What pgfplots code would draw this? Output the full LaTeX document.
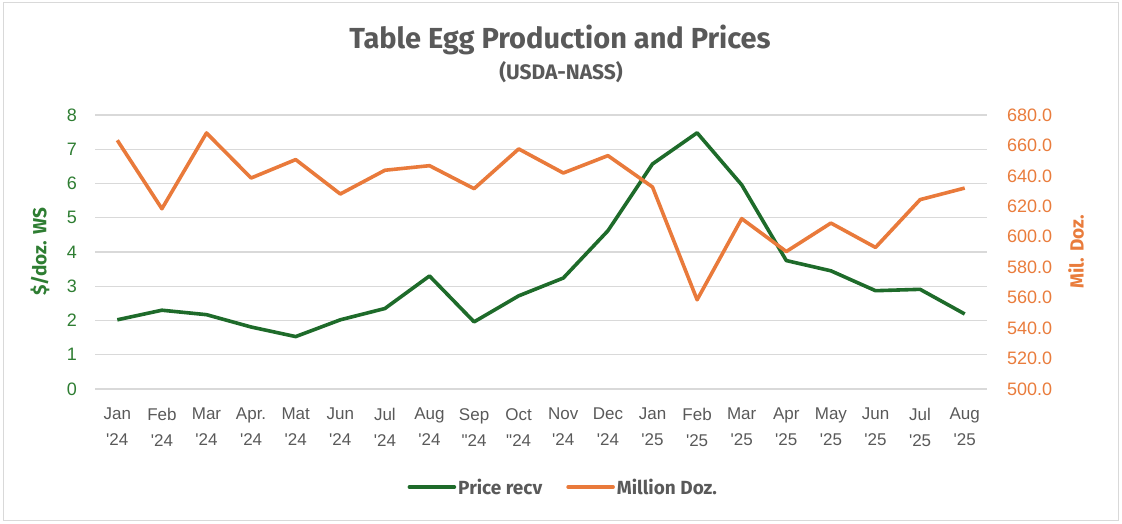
\documentclass[border=0pt]{standalone}
\usepackage{fontspec}
\usepackage{pgfplots}
\pgfplotsset{compat=1.18}
\newfontfamily\tf{Liberation Sans}
\newfontfamily\hf{Fira Sans}
\definecolor{egggreen}{HTML}{1E6B2A}
\definecolor{eggorange}{HTML}{E97A3B}
\definecolor{txtgray}{HTML}{595959}
\definecolor{lblgreen}{HTML}{2E7D32}
\definecolor{lblorange}{HTML}{E97C3C}
\definecolor{gridgray}{HTML}{D9D9D9}
\begin{document}
\begin{tikzpicture}[x=1pt,y=1pt]
\path (0,0) rectangle (1122,524);
\draw[draw=gridgray, line width=1pt] (3,3) rectangle (1118.5,521);
\begin{axis}[at={(95pt,135pt)}, anchor=south west, scale only axis,
  width=892pt, height=274pt,
  xmin=-0.5, xmax=19.5, ymin=0, ymax=8,
  ytick={0,1,...,8}, xtick={0,1,...,19},
  xticklabels={{Jan\\'24},{Feb\\'24},{Mar\\'24},{Apr.\\'24},{Mat\\'24},{Jun\\'24},{Jul\\'24},{Aug\\'24},{Sep\\"24},{Oct\\"24},{Nov\\'24},{Dec\\'24},{Jan\\'25},{Feb\\'25},{Mar\\'25},{Apr\\'25},{May\\'25},{Jun\\'25},{Jul\\'25},{Aug\\'25}},
  xticklabel style={align=center, anchor=north, inner sep=0pt, yshift=-19pt, font=\tf\fontsize{17}{26}\selectfont, text=txtgray},
  yticklabel style={anchor=east, inner sep=0pt, xshift=-18pt, font=\tf\fontsize{18}{18}\selectfont, text=lblgreen,
    /pgf/number format/assume math mode=true},
  axis line style={draw=none}, major tick length=0pt,
  ymajorgrids, grid style={draw=gridgray, line width=1.2pt},
  clip=false]
\addplot[egggreen, line width=3.6pt, line join=round] coordinates {
(0,2.02) (1,2.30) (2,2.17) (3,1.81) (4,1.53) (5,2.02) (6,2.35) (7,3.30) (8,1.96) (9,2.72)
(10,3.24) (11,4.62) (12,6.57) (13,7.48) (14,5.96) (15,3.75) (16,3.45) (17,2.87) (18,2.91) (19,2.19)};
\end{axis}
\begin{axis}[at={(95pt,135pt)}, anchor=south west, scale only axis,
  width=892pt, height=274pt,
  xmin=-0.5, xmax=19.5, ymin=500, ymax=680,
  ytick={500,520,...,680}, xtick=\empty,
  yticklabel pos=right,
  yticklabel style={anchor=west, inner sep=0pt, xshift=20pt, font=\tf\fontsize{18}{18}\selectfont, text=lblorange,
    /pgf/number format/.cd, fixed, fixed zerofill, precision=1, 1000 sep={}, assume math mode=true},
  axis line style={draw=none}, major tick length=0pt,
  clip=false,
  legend columns=2,
  legend style={draw=none, fill=none, at={(0.525,-0.358)}, anchor=center,
    font=\hf\bfseries\fontsize{19}{19}\selectfont, text=txtgray,
    nodes={inner sep=2pt},
    /tikz/every even column/.append style={column sep=22pt}},
  legend image code/.code={\draw[#1, line cap=round] (0pt,0pt) -- (45pt,0pt);}]
\addlegendimage{egggreen, line width=3.6pt}
\addlegendentry{Price recv}
\addplot[eggorange, line width=3.6pt, line join=round] coordinates {
(0,663.4) (1,618.4) (2,668.2) (3,638.6) (4,650.7) (5,628.1) (6,643.7) (7,646.7) (8,631.6) (9,657.7)
(10,641.9) (11,653.3) (12,632.7) (13,558.6) (14,611.9) (15,590.3) (16,609.0) (17,593.0) (18,624.4) (19,632.0)};
\addlegendentry{Million Doz.}
\end{axis}
\node[font=\hf\bfseries\fontsize{29}{29}\selectfont, text=txtgray] at (560,484) {Table Egg Production and Prices};
\node[font=\hf\bfseries\fontsize{21}{21}\selectfont, text=txtgray] at (561,452) {(USDA-NASS)};
\node[rotate=90, font=\hf\bfseries\fontsize{19}{19}\selectfont, text=lblgreen] at (40,272) {\$/doz. WS};
\node[rotate=90, font=\hf\bfseries\fontsize{19}{19}\selectfont, text=lblorange] at (1076,272) {Mil. Doz.};
\end{tikzpicture}
\end{document}
